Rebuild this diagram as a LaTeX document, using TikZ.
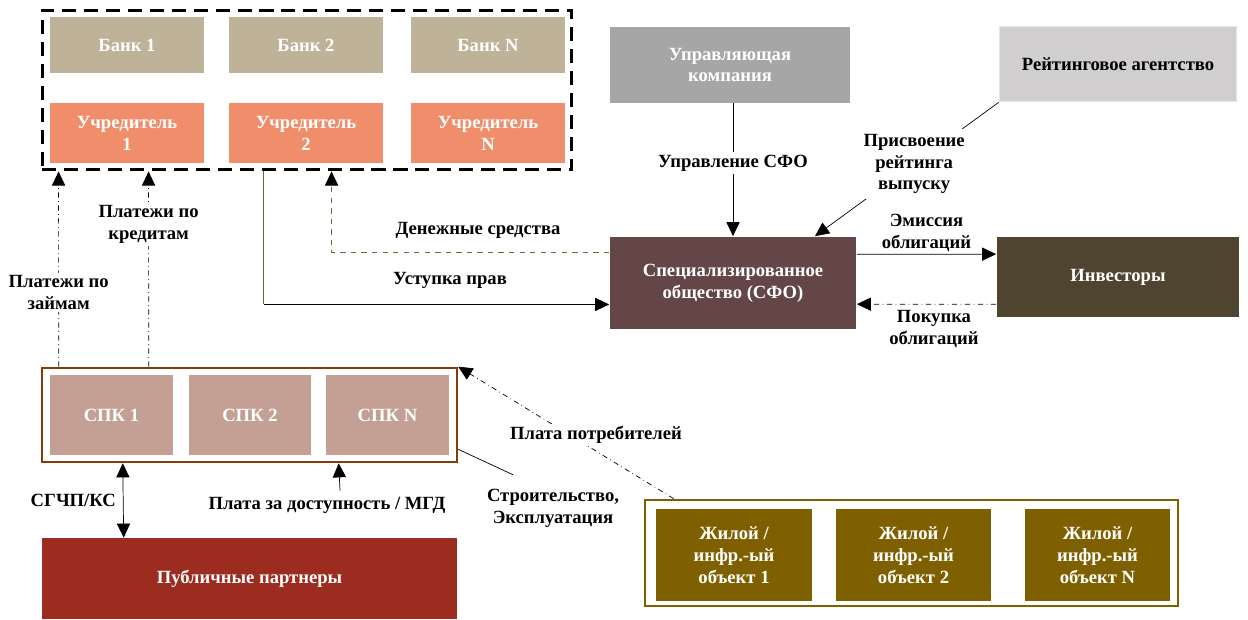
\documentclass[tikz,border=0pt]{standalone}
\usepackage{fontspec}
\setmainfont{Liberation Serif}
\usetikzlibrary{positioning,arrows.meta,calc}

\definecolor{bankc}{RGB}{190,178,152}
\definecolor{founderc}{RGB}{240,142,108}
\definecolor{ukc}{RGB}{166,166,166}
\definecolor{ratingc}{RGB}{208,206,206}
\definecolor{sfoc}{RGB}{100,70,70}
\definecolor{invc}{RGB}{79,68,48}
\definecolor{spkc}{RGB}{196,160,148}
\definecolor{spkborder}{RGB}{132,60,12}
\definecolor{publicc}{RGB}{155,44,31}
\definecolor{objc}{RGB}{127,96,0}
\definecolor{cessgreen}{RGB}{84,120,56}

\begin{document}
\begin{tikzpicture}[
    x=0.02cm, y=-0.02cm,
    every node/.style={font=\fontsize{10.6}{12.5}\selectfont\bfseries},
    box/.style={rectangle, inner sep=0pt, align=center, text=white},
    bankbox/.style={box, fill=bankc, minimum width=3.08cm, minimum height=1.12cm},
    founderbox/.style={box, fill=founderc, minimum width=3.08cm, minimum height=1.22cm},
    spkbox/.style={box, fill=spkc, minimum width=2.46cm, minimum height=1.6cm},
    objbox/.style={box, fill=objc, minimum width=3.1cm, minimum height=1.84cm},
    groupbox/.style={rectangle, inner sep=0pt, fill=white},
    lbl/.style={fill=white, inner sep=1.5pt, align=center},
    headtip/.tip={Triangle[length=8pt, width=7.5pt, color=black]},
    arrow/.style={-{headtip}, thin},
    dotarrow/.style={arrow, dash dot}
]

\useasboundingbox (0,0) rectangle (1248,619);

% === Banks and founders (top left) ===
\node[groupbox, draw, line width=1.7pt, dash pattern=on 8pt off 4.5pt,
      minimum width=10.6cm, minimum height=3.2cm] (banks) at (307,90) {};
\node[bankbox] (bank1) at (127,45) {Банк 1};
\node[bankbox] (bank2) at (306,45) {Банк 2};
\node[bankbox] (bankN) at (488,45) {Банк N};
\node[founderbox] (founder1) at (127,133) {Учредитель\\1};
\node[founderbox] (founder2) at (306,133) {Учредитель\\2};
\node[founderbox] (founderN) at (488,133) {Учредитель\\N};

% === Management and rating ===
\node[box, fill=ukc, minimum width=4.8cm, minimum height=1.52cm] (uk) at (730,65) {Управляющая\\компания};
\node[box, fill=ratingc, draw=black!10, line width=1pt, text=black,
      minimum width=4.74cm, minimum height=1.5cm] (rating) at (1118,64) {Рейтинговое агентство};

% === SPV and investors ===
\node[box, fill=sfoc, minimum width=4.94cm, minimum height=1.86cm] (sfo) at (733,283) {Специализированное\\общество (СФО)};
\node[box, fill=invc, minimum width=4.86cm, minimum height=1.62cm] (inv) at (1118,277) {Инвесторы};

% === Project companies ===
\node[groupbox, draw=spkborder, line width=1.5pt,
      minimum width=8.3cm, minimum height=1.88cm] (spkgroup) at (249.5,415) {};
\node[spkbox] (spk1) at (111.5,415) {СПК 1};
\node[spkbox] (spk2) at (250,415) {СПК 2};
\node[spkbox] (spkN) at (387.5,415) {СПК N};

% === Public partners ===
\node[box, fill=publicc, minimum width=8.3cm, minimum height=1.62cm] (public) at (249.5,578.5) {Публичные партнеры};

% === Objects ===
\node[groupbox, draw=objc, line width=1.5pt,
      minimum width=10.66cm, minimum height=2.12cm] (objgroup) at (911.5,553) {};
\node[objbox, minimum width=3.12cm] (obj1) at (734,555) {Жилой /\\инфр.-ый\\объект 1};
\node[objbox] (obj2) at (913.5,555) {Жилой /\\инфр.-ый\\объект 2};
\node[objbox, minimum width=2.9cm] (objN) at (1097.5,555) {Жилой /\\инфр.-ый\\объект N};

% === ARROWS ===

% Loan and credit payments
\draw[dotarrow] ($(spkgroup.north west)+(18,0)$) -- node[lbl, pos=0.38] {Платежи по\\займам} ($(banks.south west)+(18,0)$);
\draw[dotarrow] ($(spkgroup.north west)+(108,0)$) -- node[lbl, pos=0.73] {Платежи по\\кредитам} ($(banks.south west)+(108,0)$);

% Assignment of rights
\coordinate (cessbend) at ($(banks.south west)+(223,133)$);
\draw[cessgreen] ($(banks.south west)+(223,0)$) -- (cessbend);
\draw[arrow] (cessbend) -- (cessbend -| sfo.west);
\node at (450,280) {Уступка прав};

% Funds
\draw[cessgreen, dashed, -{headtip}] ($(sfo.north west)+(0,16)$) -| ($(banks.south west)+(291,0)$);
\node at (478,230) {Денежные средства};

% Management and rating
\draw[arrow] (uk.south -| sfo.north) -- node[lbl, pos=0.45] {Управление СФО} (sfo.north);
\draw[arrow] (rating.south west) -- node[lbl, pos=0.46, inner sep=3pt] {Присвоение\\рейтинга\\выпуску} ($(sfo.north)+(82,0)$);

% Bonds
\draw[arrow] ($(sfo.north east)+(0,18)$) -- node[above, align=center, inner sep=1pt] {Эмиссия\\облигаций} ($(inv.north west)+(0,18)$);
\draw[dotarrow] ($(inv.north west)+(0,68)$) -- node[below, align=center, xshift=0.15cm] {Покупка\\облигаций} ($(sfo.north east)+(0,68)$);

% Consumer payments and construction
\draw[dotarrow] ($(objgroup.north west)+(30,0)$) -- node[lbl, pos=0.5, xshift=0.6cm, yshift=-0.05cm] {Плата потребителей} (spkgroup.north east);
\node[align=center, inner sep=1pt] (constr) at (553,508) {Строительство,\\Эксплуатация};
\draw ($(spkgroup.south east)+(0,-14)$) -- ($(constr.north)+(-40,-12)$);

% Public partners
\draw[{headtip}-{headtip}] ($(spkgroup.south west)+(82,0)$) -- node[left, inner sep=4pt] {СГЧП/КС} ($(public.north west)+(82,0)$);
\node (avail) at (327,505) {Плата за доступность / МГД};
\draw[arrow] ($(avail.north)+(13,0)$) -- ($(spkgroup.south west)+(298,0)$);

\end{tikzpicture}
\end{document}
